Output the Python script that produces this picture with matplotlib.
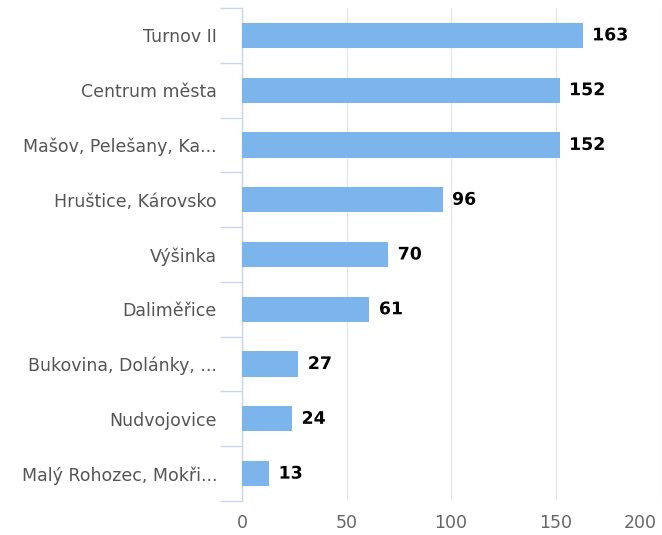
import matplotlib.pyplot as plt
import matplotlib.patheffects as pe
import matplotlib.transforms as mtransforms
import numpy as np

# data
categories = [
    "Turnov II",
    "Centrum města",
    "Mašov, Pelešany, Ka...",
    "Hruštice, Károvsko",
    "Výšinka",
    "Daliměřice",
    "Bukovina, Dolánky, ...",
    "Nudvojovice",
    "Malý Rohozec, Mokři...",
]
values = [163, 152, 152, 96, 70, 61, 27, 24, 13]
x_ticks = [0, 50, 100, 150, 200]

plt.rcParams["font.family"] = ["DejaVu Sans"]

fig = plt.figure(figsize=(6.62, 5.35), dpi=100)
ax = fig.add_axes([242 / 662, 1 - 501 / 535, 418 / 662, 493 / 535])

y = np.arange(len(categories))
bars = ax.barh(y, values, height=0.46, color="#7cb5ec", zorder=3)

ax.set_xlim(0, 200)
ax.set_ylim(len(categories) - 0.5, -0.5)

ax.set_xticks(x_ticks)
ax.set_xticklabels([str(t) for t in x_ticks], fontsize=12.5, color="#666666")
ax.xaxis.grid(True, color="#e6e6e6", linewidth=1, zorder=0)
ax.tick_params(axis="x", length=0, pad=9)
# last label pushed inside the figure like the original
last = ax.get_xticklabels()[-1]
last.set_transform(last.get_transform() + mtransforms.ScaledTranslation(-20 / 100, 0, fig.dpi_scale_trans))

# category labels at centers, tick marks at boundaries
ax.set_yticks(y)
ax.set_yticklabels(categories, fontsize=12.5, color="#555555")
ax.tick_params(axis="y", which="major", length=0, pad=18)
ax.set_yticks(np.arange(-0.5, len(categories), 1), minor=True)
ax.tick_params(axis="y", which="minor", length=16, width=1, color="#ccd6eb")

for s in ["top", "right", "bottom"]:
    ax.spines[s].set_visible(False)
ax.spines["left"].set_color("#ccd6eb")
ax.spines["left"].set_linewidth(1)

# data labels
for bar, v in zip(bars, values):
    ax.text(
        bar.get_width() + 4.5,
        bar.get_y() + bar.get_height() / 2,
        f"{v}",
        ha="left",
        va="center",
        fontsize=12.5,
        fontweight="heavy",
        color="black",
        zorder=4,
        path_effects=[pe.withStroke(linewidth=2.5, foreground="white")],
    )

plt.savefig("out.png", dpi=100)
